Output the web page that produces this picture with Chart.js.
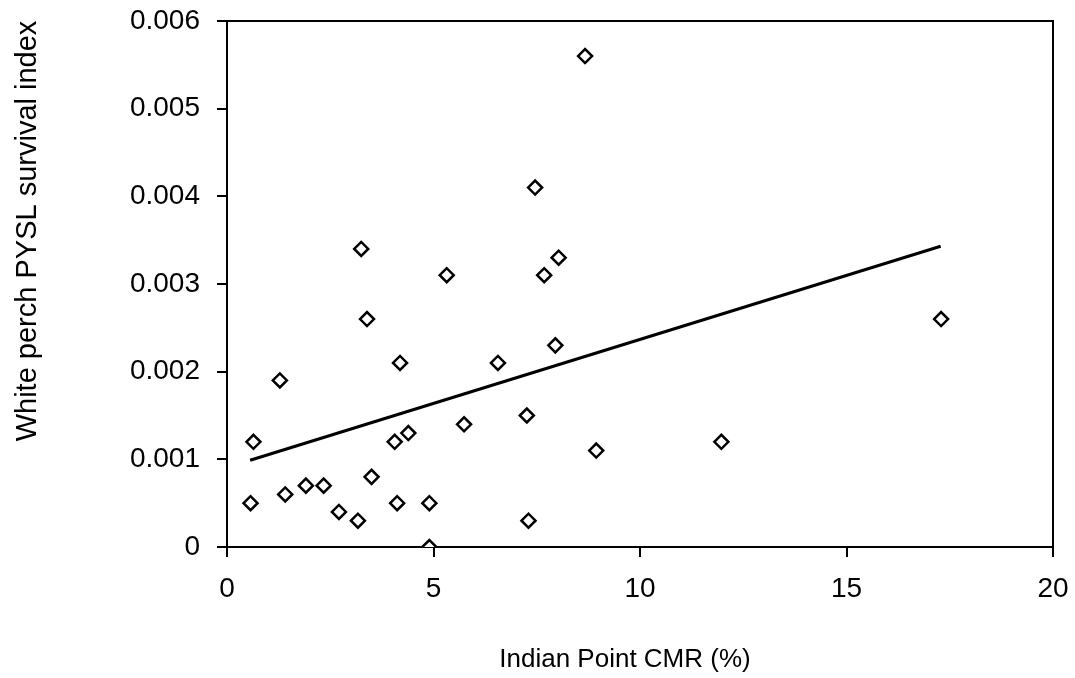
<!DOCTYPE html>
<html>
<head>
<meta charset="utf-8">
<script src="https://cdn.jsdelivr.net/npm/chart.js@4/dist/chart.umd.min.js"></script>
<style>
  html, body { margin: 0; padding: 0; background: #fff; }
  canvas { display: block; }
</style>
</head>
<body>
<canvas id="c" width="1075" height="678"></canvas>
<script>
// ---- data ----
const cmrValues = [0.57, 0.64, 1.28, 1.41, 1.91, 2.34, 2.71, 3.17, 3.25, 3.39,
                   3.50, 4.06, 4.12, 4.19, 4.39, 4.90, 4.90, 5.32, 5.74, 6.56,
                   7.26, 7.30, 7.46, 7.68, 7.95, 8.03, 8.67, 8.94, 11.97, 17.29];
const survivalValues = [0.0005, 0.0012, 0.0019, 0.0006, 0.0007, 0.0007, 0.0004, 0.0003, 0.0034, 0.0026,
                        0.0008, 0.0012, 0.0005, 0.0021, 0.0013, 0.0005, 0.0000, 0.0031, 0.0014, 0.0021,
                        0.0015, 0.0003, 0.0041, 0.0031, 0.0023, 0.0033, 0.0056, 0.0011, 0.0012, 0.0026];
const trendX = [0.56, 17.28];
const trendY = [0.00099, 0.00343];
const xTicks = [0, 5, 10, 15, 20];
const yTicks = [0, 0.001, 0.002, 0.003, 0.004, 0.005, 0.006];
const yTickLabels = ['0', '0.001', '0.002', '0.003', '0.004', '0.005', '0.006'];
const xTitle = 'Indian Point CMR (%)';
const yTitle = 'White perch PYSL survival index';

const FONT = '"Liberation Sans", Arial, Helvetica, sans-serif';

const scatterData = cmrValues.map((x, i) => ({ x: x, y: survivalValues[i] }));
const trendData = trendX.map((x, i) => ({ x: x, y: trendY[i] }));

const framePlugin = {
  id: 'frameAndTitles',
  afterDraw(chart) {
    const ctx = chart.ctx;
    const a = chart.chartArea;
    ctx.save();
    // frame top & right
    ctx.strokeStyle = '#000';
    ctx.lineWidth = 2;
    ctx.beginPath();
    ctx.moveTo(a.left, a.top);
    ctx.lineTo(a.right, a.top);
    ctx.lineTo(a.right, a.bottom);
    ctx.stroke();
    // x title
    ctx.fillStyle = '#000';
    ctx.font = '26px ' + FONT;
    ctx.textAlign = 'center';
    ctx.textBaseline = 'alphabetic';
    ctx.fillText(xTitle, (a.left + a.right) / 2 - 15, 667);
    // y title (rotated)
    ctx.font = '29px ' + FONT;
    ctx.translate(36, 231);
    ctx.rotate(-Math.PI / 2);
    ctx.fillText(yTitle, 0, 0);
    ctx.restore();
  }
};

new Chart(document.getElementById('c'), {
  type: 'scatter',
  data: {
    datasets: [
      {
        type: 'line',
        data: trendData,
        borderColor: '#000',
        borderWidth: 3,
        pointRadius: 0,
        fill: false,
        order: 2
      },
      {
        type: 'scatter',
        data: scatterData,
        pointStyle: 'rectRot',
        pointRadius: 7,
        pointBorderWidth: 2.5,
        borderColor: '#000',
        backgroundColor: '#fff',
        pointBorderColor: '#000',
        pointBackgroundColor: '#fff',
        order: 1
      }
    ]
  },
  options: {
    responsive: false,
    animation: false,
    layout: { padding: { left: 130, right: 22, top: 21, bottom: 72 } },
    plugins: { legend: { display: false }, tooltip: { enabled: false } },
    scales: {
      x: {
        type: 'linear',
        min: xTicks[0],
        max: xTicks[xTicks.length - 1],
        afterBuildTicks(scale) { scale.ticks = xTicks.map(v => ({ value: v })); },
        afterFit(scale) { scale.height = 59; scale.paddingLeft = 0; scale.paddingRight = 0; },
        ticks: {
          color: '#000',
          font: { family: FONT, size: 28 },
          padding: 15,
          maxRotation: 0,
          callback: (v) => String(v)
        },
        grid: { display: true, drawOnChartArea: false, drawTicks: true, tickLength: 10, color: '#000', lineWidth: 2 },
        border: { display: true, color: '#000', width: 2 }
      },
      y: {
        type: 'linear',
        min: yTicks[0],
        max: yTicks[yTicks.length - 1],
        afterBuildTicks(scale) { scale.ticks = yTicks.map(v => ({ value: v })); },
        afterFit(scale) { scale.width = 97; scale.paddingTop = 0; scale.paddingBottom = 0; },
        ticks: {
          color: '#000',
          font: { family: FONT, size: 28 },
          padding: 17,
          callback: (v) => { const i = yTicks.findIndex(t => Math.abs(t - v) < 1e-9); return i >= 0 ? yTickLabels[i] : ''; }
        },
        grid: { display: true, drawOnChartArea: false, drawTicks: true, tickLength: 10, color: '#000', lineWidth: 2 },
        border: { display: true, color: '#000', width: 2 }
      }
    }
  },
  plugins: [framePlugin]
});
</script>
</body>
</html>
